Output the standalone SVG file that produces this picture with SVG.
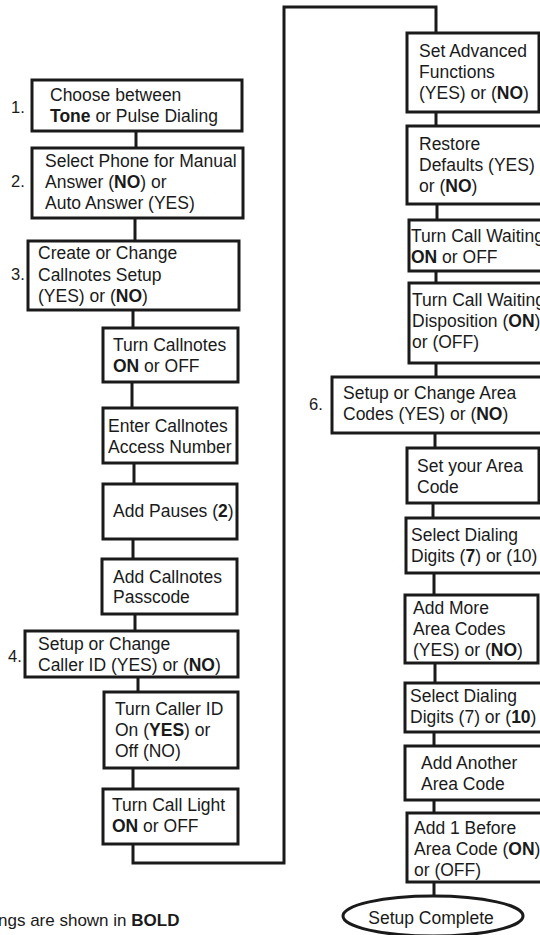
<svg xmlns="http://www.w3.org/2000/svg" width="540" height="935" viewBox="0 0 540 935">
<style>
.box{fill:#fff;stroke:#1a1a1a;stroke-width:3}
.ln{fill:none;stroke:#1a1a1a;stroke-width:3}
text{font-family:"Liberation Sans",Arial,sans-serif;font-size:17.5px;fill:#1a1a1a}
.num{font-size:16.5px}
.b{font-weight:bold}
</style>
<rect width="540" height="935" fill="#fff"/>
<g id="connectors">
<path class="ln" d="M136 131V148M135 218V241M133 310V328M132 382V408M134 463V484M133 539V559M135 614V631M138 677V692M133 768V789"/>
<path class="ln" d="M133 844V863H284V7H436V33"/>
<path class="ln" d="M436 112V126M437 204V220M436 271V283M436 363V377M435 433V448M433 503V518M434 573V595M435 663V683M434 732V746M434 800V813M434 882V897"/>
</g>
<g id="n1"><rect class="box" x="32" y="80" width="210" height="51"/><text class="num" x="11" y="113">1.</text><text x="50" y="101">Choose between</text><text x="50" y="122"><tspan class="b">Tone</tspan> or Pulse Dialing</text></g>
<g id="n2"><rect class="box" x="32" y="148" width="211" height="70"/><text class="num" x="11" y="187">2.</text><text x="45" y="167">Select Phone for Manual</text><text x="45" y="188">Answer (<tspan class="b">NO</tspan>) or</text><text x="45" y="209">Auto Answer (YES)</text></g>
<g id="n3"><rect class="box" x="28" y="241" width="211" height="69"/><text class="num" x="11" y="280">3.</text><text x="38" y="259">Create or Change</text><text x="38" y="281">Callnotes Setup</text><text x="38" y="302">(YES) or (<tspan class="b">NO</tspan>)</text></g>
<g id="n3a"><rect class="box" x="103" y="328" width="135" height="54"/><text x="113" y="351">Turn Callnotes</text><text x="113" y="372"><tspan class="b">ON</tspan> or OFF</text></g>
<g id="n3b"><rect class="box" x="103" y="408" width="134" height="55"/><text x="108" y="432">Enter Callnotes</text><text x="108" y="453">Access Number</text></g>
<g id="n3c"><rect class="box" x="103" y="484" width="134" height="55"/><text x="113" y="517">Add Pauses (<tspan class="b">2</tspan>)</text></g>
<g id="n3d"><rect class="box" x="102" y="559" width="135" height="55"/><text x="113" y="583">Add Callnotes</text><text x="113" y="603">Passcode</text></g>
<g id="n4"><rect class="box" x="25" y="631" width="213" height="46"/><text class="num" x="8" y="662">4.</text><text x="38" y="650">Setup or Change</text><text x="38" y="671">Caller ID (YES) or (<tspan class="b">NO</tspan>)</text></g>
<g id="n4a"><rect class="box" x="104" y="692" width="134" height="76"/><text x="115" y="715">Turn Caller ID</text><text x="115" y="736">On (<tspan class="b">YES</tspan>) or</text><text x="115" y="757">Off (NO)</text></g>
<g id="n4b"><rect class="box" x="103" y="789" width="135" height="55"/><text x="112" y="811">Turn Call Light</text><text x="112" y="832"><tspan class="b">ON</tspan> or OFF</text></g>
<g id="n5"><rect class="box" x="407" y="33" width="132" height="79"/><text x="419" y="57">Set Advanced</text><text x="419" y="78">Functions</text><text x="419" y="99">(YES) or (<tspan class="b">NO</tspan>)</text></g>
<g id="n5a"><rect class="box" x="407" y="126" width="140" height="78"/><text x="419" y="150">Restore</text><text x="419" y="171">Defaults (YES)</text><text x="419" y="192">or (<tspan class="b">NO</tspan>)</text></g>
<g id="n5b"><rect class="box" x="409" y="220" width="138" height="51"/><text x="411" y="242">Turn Call Waiting</text><text x="411" y="263"><tspan class="b">ON</tspan> or OFF</text></g>
<g id="n5c"><rect class="box" x="409" y="283" width="138" height="80"/><text x="412" y="306">Turn Call Waiting</text><text x="412" y="327">Disposition (<tspan class="b">ON</tspan>)</text><text x="412" y="348">or (OFF)</text></g>
<g id="n6"><rect class="box" x="332" y="377" width="215" height="56"/><text class="num" x="309" y="410">6.</text><text x="343" y="399">Setup or Change Area</text><text x="343" y="420">Codes (YES) or (<tspan class="b">NO</tspan>)</text></g>
<g id="n6a"><rect class="box" x="407" y="448" width="132" height="55"/><text x="417" y="472">Set your Area</text><text x="417" y="493">Code</text></g>
<g id="n6b"><rect class="box" x="406" y="518" width="141" height="55"/><text x="411" y="541">Select Dialing</text><text x="411" y="562">Digits (<tspan class="b">7</tspan>) or (10)</text></g>
<g id="n6c"><rect class="box" x="405" y="595" width="133" height="68"/><text x="413" y="614">Add More</text><text x="413" y="635">Area Codes</text><text x="413" y="656">(YES) or (<tspan class="b">NO</tspan>)</text></g>
<g id="n6d"><rect class="box" x="405" y="683" width="142" height="49"/><text x="410" y="702">Select Dialing</text><text x="410" y="723">Digits (7) or (<tspan class="b">10</tspan>)</text></g>
<g id="n6e"><rect class="box" x="405" y="746" width="142" height="54"/><text x="421" y="769">Add Another</text><text x="421" y="790">Area Code</text></g>
<g id="n6f"><rect class="box" x="407" y="813" width="140" height="69"/><text x="414" y="834">Add 1 Before</text><text x="414" y="855">Area Code (<tspan class="b">ON</tspan>)</text><text x="414" y="876">or (OFF)</text></g>
<g id="end"><ellipse class="box" cx="433" cy="916" rx="90" ry="20"/><text x="431" y="924" text-anchor="middle">Setup Complete</text></g>
<text x="-2" y="926" style="font-size:17px">ngs are shown in <tspan class="b">BOLD</tspan></text>
</svg>
